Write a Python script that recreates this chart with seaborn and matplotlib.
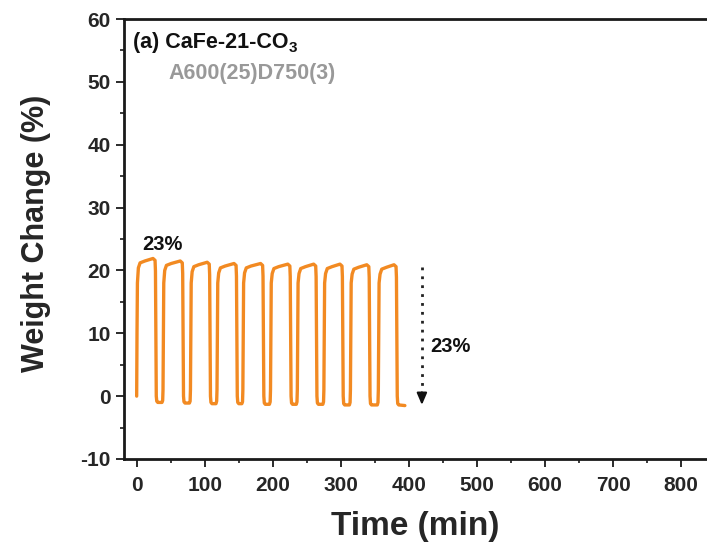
import matplotlib
matplotlib.use("Agg")
import matplotlib.pyplot as plt
from matplotlib.ticker import MultipleLocator
import seaborn as sns
import pandas as pd

# ---- data (TGA cycling, CaFe-21-CO3) ----
time_min = [
    0.0, 0.5, 1.1, 2.5, 5.0, 12.0, 24.0, 27.0, 27.6, 28.2, 28.8, 29.5, 31.0, 37.2,
    38.2, 38.7, 39.2, 39.8, 41.2, 43.7, 50.7, 64.0, 67.0, 67.6, 68.2, 68.8, 69.5, 71.0, 77.5,
    78.5, 79.0, 79.5, 80.1, 81.5, 84.0, 91.0, 103.6, 106.6, 107.2, 107.8, 108.4, 109.1, 110.6, 116.5,
    117.5, 118.0, 118.5, 119.1, 120.5, 123.0, 130.0, 143.0, 146.0, 146.6, 147.2, 147.8, 148.5, 150.0, 154.5,
    155.5, 156.0, 156.5, 157.1, 158.5, 161.0, 168.0, 182.0, 185.0, 185.6, 186.2, 186.8, 187.5, 189.0, 195.0,
    196.1, 196.6, 197.1, 197.7, 199.1, 201.6, 208.6, 222.0, 225.0, 225.6, 226.2, 226.8, 227.5, 229.0, 234.5,
    235.5, 236.0, 236.5, 237.1, 238.5, 241.0, 248.0, 260.0, 263.0, 263.6, 264.2, 264.8, 265.5, 267.0, 273.5,
    274.5, 275.0, 275.5, 276.1, 277.5, 280.0, 287.0, 298.6, 301.6, 302.2, 302.8, 303.4, 304.1, 305.6, 312.5,
    313.5, 314.0, 314.5, 315.1, 316.5, 319.0, 326.0, 338.0, 341.0, 341.6, 342.2, 342.8, 343.5, 345.0, 353.5,
    354.5, 355.0, 355.5, 356.1, 357.5, 360.0, 367.0, 378.0, 381.0, 381.6, 382.2, 382.8, 383.5, 385.0, 394.0,
]
weight_pct = [
    0.0, 10.0, 18.0, 20.4, 21.2, 21.5, 21.9, 21.6, 19.9, 10.0, 0.0, -0.8, -1.0, -1.0,
    -0.7, 1.0, 10.0, 18.0, 20.0, 20.8, 21.1, 21.5, 21.2, 19.5, 10.0, 0.0, -0.9, -1.1, -1.1,
    -0.8, 1.0, 10.0, 18.0, 19.8, 20.6, 20.9, 21.3, 21.0, 19.3, 10.0, 0.0, -1.0, -1.2, -1.2,
    -0.8, 1.0, 10.0, 18.0, 19.6, 20.4, 20.7, 21.1, 20.8, 19.1, 10.0, 0.0, -1.0, -1.2, -1.2,
    -0.9, 1.0, 10.0, 18.0, 19.6, 20.4, 20.7, 21.1, 20.8, 19.1, 10.0, 0.0, -1.1, -1.3, -1.3,
    -0.9, 1.0, 10.0, 18.0, 19.5, 20.3, 20.6, 21.0, 20.7, 19.0, 10.0, 0.0, -1.1, -1.3, -1.3,
    -0.9, 1.0, 10.0, 18.0, 19.5, 20.3, 20.6, 21.0, 20.7, 19.0, 10.0, 0.0, -1.1, -1.3, -1.3,
    -0.9, 1.0, 10.0, 18.0, 19.5, 20.3, 20.6, 21.0, 20.7, 19.0, 10.0, 0.0, -1.2, -1.4, -1.4,
    -1.0, 1.0, 10.0, 18.0, 19.4, 20.2, 20.5, 20.9, 20.6, 18.9, 10.0, 0.0, -1.2, -1.4, -1.4,
    -1.0, 1.0, 10.0, 18.0, 19.4, 20.2, 20.5, 20.9, 20.6, 18.9, 10.0, 0.0, -1.2, -1.4, -1.5,
]
x_ticks = [0, 100, 200, 300, 400, 500, 600, 700, 800]
y_ticks = [-10, 0, 10, 20, 30, 40, 50, 60]
panel_title = "(a) CaFe-21-CO"
panel_sub = "3"
condition_label = "A600(25)D750(3)"
capacity_label = "23%"
change_label = "23%"
arrow_x = 419
arrow_top, arrow_bottom = 20.5, -1.4

# ---- style ----
sns.set_style("ticks")
plt.rcParams["font.family"] = ["Liberation Sans", "DejaVu Sans"]
plt.rcParams["font.weight"] = "bold"
plt.rcParams["axes.labelweight"] = "bold"
plt.rcParams["axes.unicode_minus"] = False

df = pd.DataFrame({"Time (min)": time_min, "Weight Change (%)": weight_pct})

fig = plt.figure(figsize=(7.07, 5.54), dpi=100)
ax = fig.add_axes([0.1754, 0.1715, 0.8246, 0.7942])

sns.lineplot(data=df, x="Time (min)", y="Weight Change (%)", ax=ax,
             color="#F28A22", linewidth=2.4, sort=False, estimator=None)

ax.set_xlim(-18.6, 837.8)
ax.set_ylim(-10, 60)
ax.set_xticks(x_ticks)
ax.set_yticks(y_ticks)
ax.xaxis.set_minor_locator(MultipleLocator(50))
ax.yaxis.set_minor_locator(MultipleLocator(5))

for side in ["left", "bottom", "top"]:
    ax.spines[side].set_linewidth(2.0)
    ax.spines[side].set_color("#1a1a1a")
ax.spines["right"].set_visible(False)

ax.tick_params(axis="both", which="major", direction="out", length=5.5, width=1.3,
               color="#1a1a1a", labelsize=15, pad=4)
ax.tick_params(axis="both", which="minor", direction="out", length=3, width=1.2,
               color="#1a1a1a")
ax.tick_params(axis="x", which="major", pad=7)
for lab in ax.get_xticklabels() + ax.get_yticklabels():
    lab.set_fontweight("bold")

ax.set_xlabel("Time (min)", fontsize=24, fontweight="bold")
ax.set_ylabel("Weight Change (%)", fontsize=22, fontweight="bold")
ax.xaxis.set_label_coords(0.5, -0.118)
ax.yaxis.set_label_coords(-0.1245, 0.5125)

# panel texts
t1 = ax.text(0.0149, 0.9334, panel_title, transform=ax.transAxes, fontsize=15.5,
             fontweight="bold", ha="left", va="baseline", color="#111111")
ax.annotate(panel_sub, xy=(1, 0), xycoords=t1, xytext=(0.5, -1.5), textcoords="offset points",
            fontsize=11, fontweight="bold", ha="left", va="bottom", color="#111111")
ax.text(0.0760, 0.8636, condition_label, transform=ax.transAxes, fontsize=15.5,
        fontweight="bold", ha="left", va="baseline", color="#999999")

ax.text(8.4, 23.2, capacity_label, fontsize=14.5, fontweight="bold",
        ha="left", va="baseline", color="#111111")
ax.text(431, 7.0, change_label, fontsize=14.5, fontweight="bold",
        ha="left", va="baseline", color="#111111")

# dotted arrow
ax.plot([arrow_x, arrow_x], [arrow_top, 0.8], linestyle=(0, (1, 2.2)), linewidth=2.0,
        color="#222222", dash_capstyle="butt")
ax.annotate("", xy=(arrow_x, arrow_bottom), xytext=(arrow_x, 0.6),
            arrowprops=dict(arrowstyle="-|>,head_length=0.7,head_width=0.3",
                            color="#111111", lw=1.5, shrinkA=0, shrinkB=0))

fig.savefig("out.png", dpi=100)
